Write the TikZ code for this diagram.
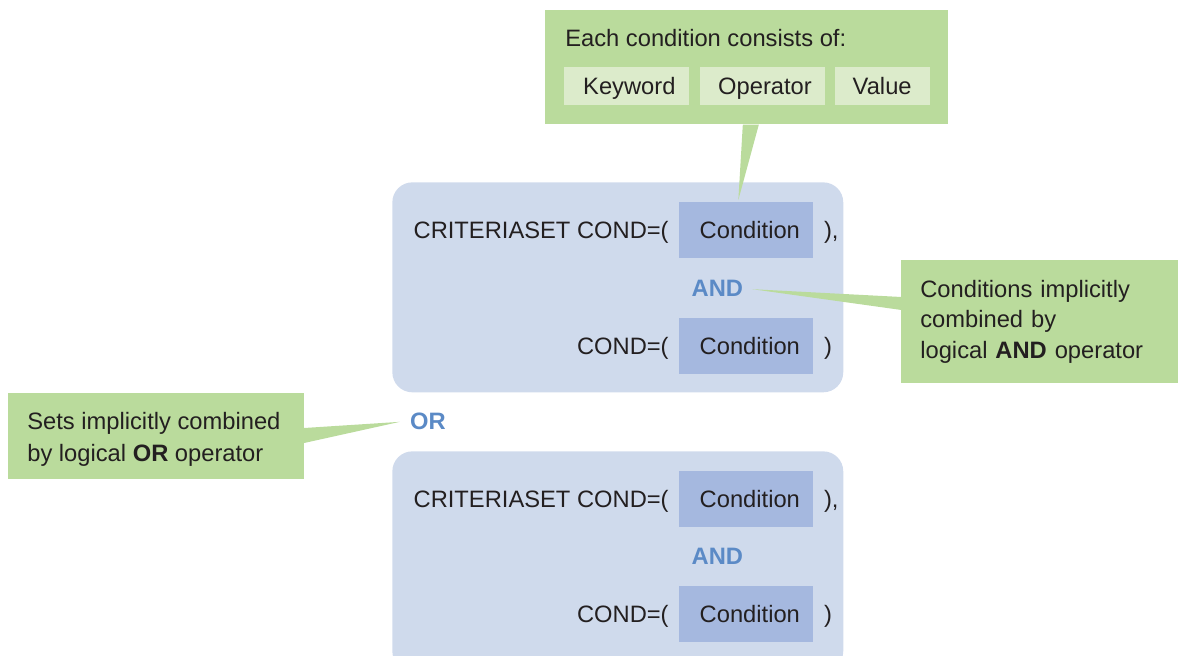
\documentclass[tikz,border=0pt]{standalone}
\usepackage{fontspec}
\setmainfont{Liberation Sans}
\usetikzlibrary{positioning,calc}
\definecolor{notegreen}{HTML}{BADB9C}
\definecolor{partgreen}{HTML}{DCEBCB}
\definecolor{setblue}{HTML}{CFDAEC}
\definecolor{condblue}{HTML}{A5B8DF}
\definecolor{opblue}{HTML}{5B8AC6}
\definecolor{ink}{HTML}{231F20}

\begin{document}
\begin{tikzpicture}[x=0.02cm,y=-0.02cm,text=ink,
  font=\fontsize{13.5}{17.3}\selectfont,
  setbox/.style={fill=setblue,rounded corners=0.4cm,minimum width=9.02cm,anchor=north west,inner sep=0},
  condbox/.style={fill=condblue,minimum width=2.68cm,minimum height=1.12cm,anchor=north west,
    inner sep=0,text height=9.7pt,text depth=0pt},
  partbox/.style={fill=partgreen,minimum height=0.76cm,anchor=north west,inner sep=0,
    text height=9.7pt,text depth=0pt},
  notebox/.style={fill=notegreen,anchor=north west,align=left,inner xsep=0.38cm,inner ysep=0},
  oplabel/.style={text=opblue,font=\fontsize{13.5}{16}\selectfont\bfseries,inner sep=0},
  codetext/.style={inner sep=0}]
\clip (0,0) rectangle (1178,656);

% criteria sets
\node[setbox,minimum height=4.2cm] (set1) at (392,182) {};
\node[setbox,minimum height=4.4cm] (set2) at (392,451) {};

\node[condbox] (cond1) at ($(set1.north west)+(287,20)$) {\hspace{0.14cm}Condition};
\node[condbox,below=1.18cm of cond1.south west,anchor=north west] (cond2) {\hspace{0.14cm}Condition};
\node[condbox] (cond3) at ($(set2.north west)+(287,20)$) {\hspace{0.14cm}Condition};
\node[condbox,below=1.16cm of cond3.south west,anchor=north west] (cond4) {\hspace{0.14cm}Condition};

\foreach \c/\pre/\post in {cond1/{CRITERIASET COND=(}/{),},cond2/{COND=(}/{)},
                           cond3/{CRITERIASET COND=(}/{),},cond4/{COND=(}/{)}}{
  \node[codetext,anchor=base east] (pre-\c) at ($(\c.west)+(-10,8.5)$) {\pre};
  \node[codetext,anchor=base west] (post-\c) at ($(\c.east)+(10,8.5)$) {\post};
}

\node[oplabel] (and1) at ($(cond1.south)!0.5!(cond2.north)+(-29,0)$) {AND};
\node[oplabel] (and2) at ($(cond3.south)!0.5!(cond4.north)+(-29,0)$) {AND};
\node[oplabel] (orlbl) at ($(set1.south west)!0.5!(set2.north west)+(36,0)$) {OR};

% notes
\node[notebox,minimum width=8.06cm,minimum height=2.28cm] (topnote) at (545,10) {};
\node[codetext,anchor=base west] (toptext) at ($(topnote.north west)+(20,36)$) {Each condition consists of:};
\node[partbox,minimum width=2.5cm] (kw) at ($(topnote.north west)+(19,57)$) {\hspace{0.1cm}Keyword};
\node[partbox,minimum width=2.5cm,right=0.2cm of kw] (opr) {\hspace{0.1cm}Operator};
\node[partbox,minimum width=1.9cm,right=0.18cm of opr] (val) {Value};

\node[notebox,text width=4.78cm,minimum height=2.46cm] (andnote) at (901,260)
  {Conditions implicitly\\ combined by\\ logical \textbf{AND} operator};
\node[notebox,minimum width=5.92cm,minimum height=1.72cm] (ornote) at (8,393) {};
\node[codetext,anchor=north west,align=left,font=\fontsize{13.5}{18.2}\selectfont] (ortext)
  at ($(ornote.north west)+(19,19)$) {Sets implicitly combined\\ by logical \textbf{OR} operator};

% callout tails
\coordinate (tipcond) at ($(cond1.north)+(-8,-2)$);
\coordinate (tipand) at ($(and1.east)+(9,1)$);
\coordinate (tipor) at ($(orlbl.west)+(-10,0)$);
\fill[notegreen] ($(topnote.south)+(-4,0)$) -- ($(topnote.south)+(12,0)$) -- (tipcond) -- cycle;
\fill[notegreen] ($(andnote.north west)+(0.5,37)$) -- ($(andnote.north west)+(0.5,50)$) -- (tipand) -- cycle;
\fill[notegreen] ($(ornote.north east)+(-0.5,35)$) -- ($(ornote.north east)+(-0.5,50)$) -- (tipor) -- cycle;
\end{tikzpicture}
\end{document}
